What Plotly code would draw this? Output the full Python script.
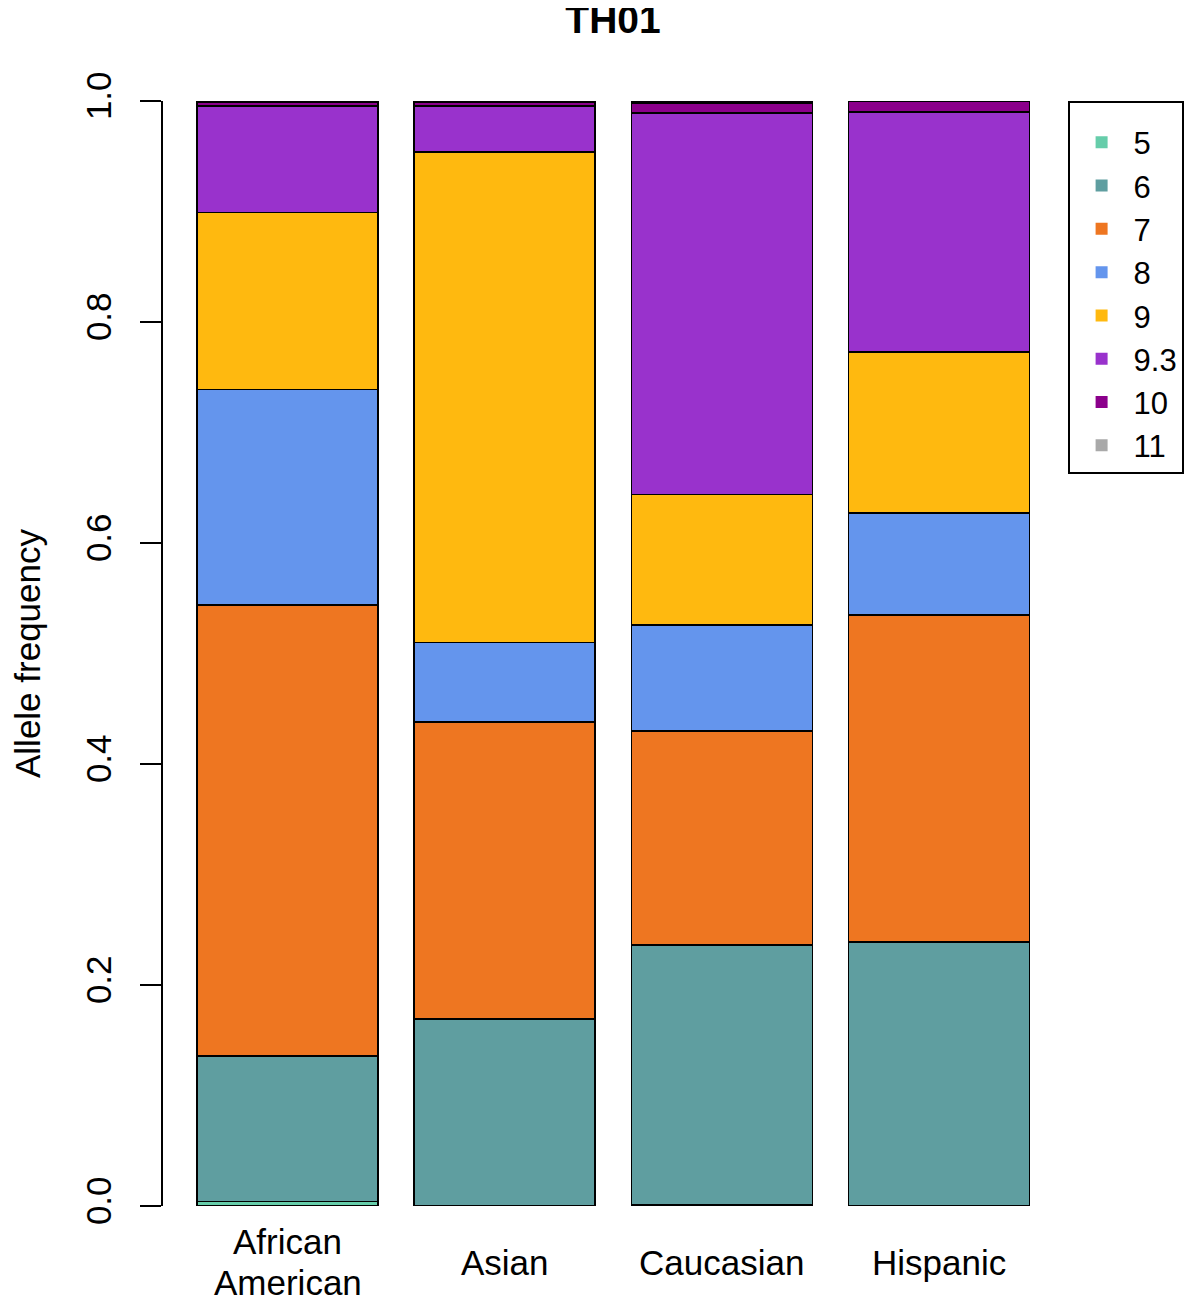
import plotly.graph_objects as go

populations = ["African\nAmerican", "Asian", "Caucasian", "Hispanic"]
alleles = ["5", "6", "7", "8", "9", "9.3", "10", "11"]
colors = ["#66CDAA", "#5F9EA0", "#EE7621", "#6495ED", "#FFB90F", "#9932CC", "#8B008B", "#A9A9A9"]

# allele frequencies per population (order: African American, Asian, Caucasian, Hispanic)
freq_5 = [0.004, 0.000, 0.001, 0.000]
freq_6 = [0.132, 0.169, 0.235, 0.239]
freq_7 = [0.408, 0.269, 0.194, 0.296]
freq_8 = [0.195, 0.072, 0.096, 0.092]
freq_9 = [0.160, 0.444, 0.118, 0.146]
freq_93 = [0.0965, 0.0415, 0.345, 0.217]
freq_10 = [0.003, 0.003, 0.009, 0.010]
freq_11 = [0.0015, 0.0015, 0.002, 0.000]
freqs = [freq_5, freq_6, freq_7, freq_8, freq_9, freq_93, freq_10, freq_11]

xpos = [0.7, 1.9, 3.1, 4.3]
FONT = "Liberation Sans, Arial, sans-serif"

W, H = 1192, 1289          # page body adds 8px offset
L, T, R, B = 155, 93, 137, 91
plot_h = H - T - B

fig = go.Figure()
for a, c, f in zip(alleles, colors, freqs):
    fig.add_trace(go.Bar(x=xpos, y=f, width=1.0, name=a,
                         marker=dict(color=c, line=dict(color="black", width=1.6)),
                         showlegend=False))
for a, c in zip(alleles, colors):
    fig.add_trace(go.Bar(x=[None], y=[None], name=a, marker=dict(color=c, line=dict(width=0)),
                         showlegend=True))

line_gap = 41
center = -56  # px below the axis bottom
for xp, p in zip(xpos, populations):
    lines = p.split("\n")
    n = len(lines)
    for i, ln in enumerate(lines):
        off = center - (i - (n - 1) / 2) * line_gap
        fig.add_annotation(x=xp, xref="x", y=off / plot_h, yref="paper", text=ln, showarrow=False,
                           xanchor="center", yanchor="middle",
                           font=dict(size=35, color="black", family=FONT))

fig.update_layout(
    width=W, height=H,
    barmode="stack",
    plot_bgcolor="white", paper_bgcolor="white",
    margin=dict(l=L, r=R, t=T, b=B, autoexpand=False),
    title=dict(text="<b>TH01</b>", x=(L + (W - L - R) / 2) / W, xanchor="center",
               y=1 - 11 / H, yanchor="middle",
               font=dict(size=39, color="black", family=FONT)),
    xaxis=dict(range=[0.2 - 34 / 181, 0.2 + 866 / 181], showticklabels=False, showline=False,
               showgrid=False, zeroline=False, ticks="", automargin=False),
    yaxis=dict(range=[0, 1], tickvals=[0, 0.2, 0.4, 0.6, 0.8, 1.0],
               ticktext=["0.0", "0.2", "0.4", "0.6", "0.8", "1.0"],
               tickangle=-90, ticks="outside", ticklen=21, tickwidth=1.6, tickcolor="black",
               showline=True, linecolor="black", linewidth=1.6, showgrid=False, zeroline=False,
               ticklabelstandoff=15, automargin=False,
               tickfont=dict(size=35, color="black", family=FONT),
               title=dict(text="Allele frequency", standoff=37,
                          font=dict(size=35, color="black", family=FONT))),
    legend=dict(x=(1060 - L) / (W - L - R), y=1, xanchor="left", yanchor="top", traceorder="normal",
                bordercolor="black", borderwidth=1.6, bgcolor="white", itemwidth=54,
                title=dict(text=" ", font=dict(size=10)),
                font=dict(size=31, color="black", family=FONT)),
)

fig.write_html("out.html")
